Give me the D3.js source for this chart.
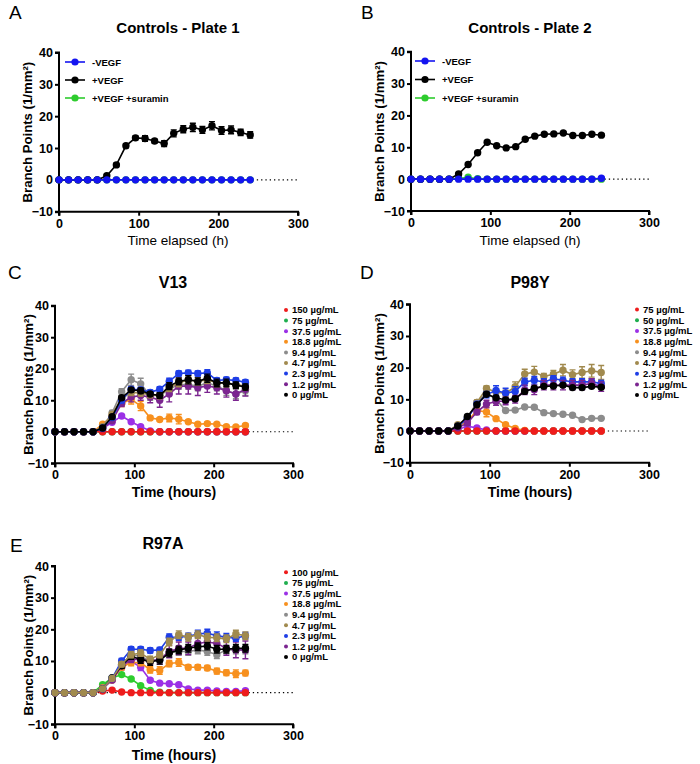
<!DOCTYPE html>
<html><head><meta charset="utf-8">
<script src="https://cdn.jsdelivr.net/npm/d3@7"></script>
<style>
body{margin:0;background:#fff;}
text{font-family:"Liberation Sans",Arial,Helvetica,sans-serif;}
</style></head>
<body><svg id="c" width="700" height="764"></svg>
<script>
const hours = [0,12,24,36,48,60,72,84,96,108,120,132,144,156,168,180,192,204,216,228,240];
const xTicks = [0,100,200,300];
const yTicks = [-10,0,10,20,30,40];

// Panel A — Controls - Plate 1
const A_minusVEGF = [0,0,0,0,0,0,0,0,0,0,0,0,0,0,0,0,0,0,0,0,0];
const A_plusVEGF  = [0,0,0,0,0,1.3,4.7,10.7,13.2,13.0,12.2,11.4,14.6,15.9,16.5,15.7,17.0,15.5,15.7,14.9,14.1];
const A_plusVEGF_err = [0,0,0,0,0,0.3,0.5,0.6,0.6,0.9,0.6,0.9,1.1,1.1,1.3,1.1,1.3,1.2,1.2,1.0,1.0];
const A_suramin   = [0,0,0,0,0,0,0,0,0,0,0,0,0,0,0,0,0,0,0,0,0];
// Panel B — Controls - Plate 2
const B_minusVEGF = [0,0,0,0,0,0,0,0,0,0,0,0,0,0,0,0,0,0,0,0,0.3];
const B_plusVEGF  = [0,0,0,0,0,1.6,4.6,8.3,11.6,10.5,9.8,10.2,12.5,13.5,14.1,14.2,14.5,13.7,13.7,14.1,13.8];
const B_plusVEGF_err = [0,0,0,0,0,0.2,0.3,0.4,0.4,0.3,0.3,0.3,0.4,0.3,0.3,0.3,0.3,0.3,0.3,0.3,0.3];
const B_suramin   = [0,0,0,0,0,0.2,0.6,0.1,0,0,0,0,0,0,0,0,0,0,0,0,0];
const controlLabels = ["-VEGF","+VEGF","+VEGF +suramin"];

// Panel C — V13
const V13_labels = ["150 µg/mL","75 µg/mL","37.5 µg/mL","18.8 µg/mL","9.4 µg/mL","4.7 µg/mL","2.3 µg/mL","1.2 µg/mL","0 µg/mL"];
const V13_150 = [0,0,0,0,0,0,0,0,0,0,0,0,0,0,0,0,0,0,0,0,0];
const V13_75  = [0,0,0,0,0,0,0,0,0,0,0,0,0,0,0,0,0,0,0,0,0];
const V13_37  = [0,0,0,0,0,1.0,3.0,5.0,3.2,1.6,0.3,0,0,0,0,0,0,0,0,0,0];
const V13_18  = [0,0,0,0,0,2.4,5.0,9.0,10.3,8.2,4.4,3.9,4.4,4.0,3.2,2.4,2.6,2.4,1.6,1.5,2.0];
const V13_9   = [0,0,0,0,0,1.5,6.0,12.7,16.5,15.2,11.5,11.5,13.5,15.0,15.0,14.5,15.5,14.5,13.0,12.0,13.0];
const V13_4   = [0,0,0,0,0,1.5,5.5,10.5,12.5,12.3,11.8,11.5,14.0,15.5,16.5,16.0,16.5,15.5,15.5,15.0,14.5];
const V13_2   = [0,0,0,0,0,1.2,4.5,10.0,13.5,13.3,12.5,13.5,16.0,18.5,18.7,18.5,18.7,16.3,16.5,16.3,15.7];
const V13_1   = [0,0,0,0,0,1.0,3.5,9.0,11.0,11.5,11.0,10.0,12.0,14.5,14.5,14.0,14.5,14.0,13.0,12.0,13.5];
const V13_0   = [0,0,0,0,0,1.2,4.8,10.8,13.3,13.0,12.0,11.5,14.5,16.0,16.5,16.0,17.0,15.5,15.5,14.8,14.2];
const V13_err18 = [0,0,0,0,0,0.3,0.6,1.0,1.5,1.5,0.6,0.5,1.2,1.5,0.5,0.4,0.4,0.4,0.4,0.4,0.4];
const V13_err9  = [0,0,0,0,0,0.3,0.8,1.0,1.8,1.8,1.5,1.5,1.5,1.5,1.5,1.5,1.5,1.5,1.5,1.5,1.5];
const V13_err4  = [0,0,0,0,0,0.3,0.6,0.8,1.0,1.0,1.0,1.0,1.2,1.2,1.2,1.2,1.2,1.2,1.2,1.2,1.2];
const V13_err2  = [0,0,0,0,0,0.3,0.6,0.8,0.8,0.8,0.8,0.8,1.0,0.8,0.8,0.8,1.0,0.8,0.8,0.8,0.8];
const V13_err1  = [0,0,0,0,0,0.3,0.6,1.0,1.5,1.5,1.8,2.2,2.5,2.5,2.5,2.5,2.0,2.0,2.0,2.0,2.2];
const V13_err0  = [0,0,0,0,0,0.3,0.5,0.6,0.6,0.9,0.6,0.9,1.1,1.1,1.3,1.1,1.3,1.2,1.2,1.0,1.0];

// Panel D — P98Y
const P98Y_labels = ["75 µg/mL","50 µg/mL","37.5 µg/mL","18.8 µg/mL","9.4 µg/mL","4.7 µg/mL","2.3 µg/mL","1.2 µg/mL","0 µg/mL"];
const P98Y_75 = [0,0,0,0,0,0,0,0,0,0,0,0,0,0,0,0,0,0,0,0,0];
const P98Y_50 = [0,0,0,0,0,0,0,0,0,0,0,0,0,0,0,0,0,0,0,0,0];
const P98Y_37 = [0,0,0,0,0,0.5,1.5,1.0,0.3,0,0,0,0,0,0,0,0,0,0,0,0];
const P98Y_18 = [0,0,0,0,0,1.5,3.0,6.5,6.0,3.9,2.0,0.8,0.2,0,0,0,0,0,0,0,0];
const P98Y_9  = [0,0,0,0,0,1.5,4.0,9.0,12.0,10.0,6.5,6.6,7.6,7.5,5.8,5.5,5.3,5.0,3.6,4.0,4.0];
const P98Y_4  = [0,0,0,0,0,2.0,4.0,9.0,13.4,12.3,11.9,14.0,18.0,18.6,17.2,17.9,19.2,17.8,18.5,19.0,18.5];
const P98Y_2  = [0,0,0,0,0,1.5,4.0,8.5,11.5,12.8,12.0,12.5,15.5,16.0,15.5,16.5,16.0,15.5,15.5,15.5,15.0];
const P98Y_1  = [0,0,0,0,0,1.0,2.5,6.0,8.5,9.3,9.5,10.0,13.0,13.0,14.5,14.5,14.5,14.5,14.5,15.0,14.0];
const P98Y_0  = [0,0,0,0,0,1.6,4.6,8.3,11.6,10.5,9.8,10.2,12.5,13.5,14.1,14.2,14.5,13.7,13.7,14.1,13.8];
const P98Y_err18 = [0,0,0,0,0,0.3,0.4,0.6,1.5,0.4,0.3,0.2,0,0,0,0,0,0,0,0,0];
const P98Y_err9  = [0,0,0,0,0,0.3,0.5,0.6,0.6,0.5,0.4,0.4,0.4,0.4,0.3,0.3,0.3,0.3,0.3,0.3,0.3];
const P98Y_err4  = [0,0,0,0,0,0.3,0.6,0.8,0.8,1.0,1.0,1.5,1.5,1.8,1.0,1.2,1.8,1.5,1.8,2.0,2.2];
const P98Y_err2  = [0,0,0,0,0,0.3,0.6,0.8,1.0,1.5,1.5,1.5,1.2,1.2,1.0,1.0,1.0,1.0,1.0,1.0,1.0];
const P98Y_err1  = [0,0,0,0,0,0.3,0.6,0.8,1.2,1.2,1.2,1.2,1.5,1.5,1.5,1.5,1.5,1.5,1.5,1.5,1.5];
const P98Y_err0  = [0,0,0,0,0,0.2,0.3,0.4,0.4,0.3,0.3,0.3,0.4,0.3,0.3,0.3,0.3,0.3,0.3,0.3,0.3];

// Panel E — R97A
const R97A_labels = ["100 µg/mL","75 µg/mL","37.5 µg/mL","18.8 µg/mL","9.4 µg/mL","4.7 µg/mL","2.3 µg/mL","1.2 µg/mL","0 µg/mL"];
const R97A_100 = [0,0,0,0,0,0.5,0.8,0.2,0,0,0,0,0,0,0,0,0,0,0,0,0];
const R97A_75  = [0,0,0,0,0,2.5,4.6,5.7,4.3,2.2,0.7,0.1,0,0,0,0,0,0,0,0,0];
const R97A_37  = [0,0,0,0,0,1.5,4.0,8.0,10.0,8.0,3.9,3.0,2.8,2.5,1.2,0.8,0.8,0.5,0.4,0.4,0.6];
const R97A_18  = [0,0,0,0,0,1.5,4.0,8.0,9.5,9.5,7.2,7.0,9.2,9.5,8.0,8.0,7.8,6.8,6.3,6.0,6.2];
const R97A_9   = [0,0,0,0,0,1.2,4.5,9.0,12.0,11.5,10.0,10.5,12.5,13.0,13.0,13.5,13.0,12.0,13.5,13.5,13.5];
const R97A_4   = [0,0,0,0,0,1.2,4.5,9.0,12.0,12.5,10.5,12.0,16.0,18.3,17.5,18.3,17.5,17.3,17.0,18.5,18.0];
const R97A_2   = [0,0,0,0,0,1.2,4.5,10.0,13.7,13.7,13.3,13.5,17.5,17.5,17.8,18.5,18.8,18.0,17.5,17.2,18.0];
const R97A_1   = [0,0,0,0,0,1.2,4.0,8.5,10.5,10.5,10.0,10.5,13.0,14.0,14.0,15.5,16.0,15.5,14.0,13.5,13.5];
const R97A_0   = [0,0,0,0,0,1.2,4.7,8.5,11.5,10.5,9.8,10.2,12.5,13.5,14.0,14.5,14.7,13.7,13.7,14.0,14.0];
const R97A_err37 = [0,0,0,0,0,0.3,0.5,0.8,1.0,1.0,0.5,0.4,0.3,0.3,0.3,0.2,0.2,0.2,0.2,0.2,0.2];
const R97A_err18 = [0,0,0,0,0,0.3,0.5,0.8,1.0,1.0,1.0,1.2,1.0,1.2,0.8,0.8,0.8,0.9,0.9,1.2,0.9];
const R97A_err9  = [0,0,0,0,0,0.3,0.5,0.8,1.0,1.0,1.0,1.0,1.2,1.2,1.2,1.2,1.2,1.2,1.2,1.2,1.2];
const R97A_err4  = [0,0,0,0,0,0.3,0.5,0.8,1.0,1.0,1.0,1.0,1.2,1.2,1.2,1.2,1.2,1.2,1.2,1.2,1.2];
const R97A_err2  = [0,0,0,0,0,0.3,0.5,0.8,0.8,0.8,0.8,0.8,1.0,1.0,1.0,1.2,1.2,1.2,1.2,1.0,1.0];
const R97A_err1  = [0,0,0,0,0,0.3,0.5,0.8,1.0,1.0,1.0,1.5,2.0,2.0,2.0,2.0,2.0,2.0,2.2,2.5,2.8];
const R97A_err0  = [0,0,0,0,0,0.3,0.5,0.8,1.0,1.2,1.2,1.2,1.2,1.2,1.2,1.2,1.2,1.2,1.2,1.2,1.2];

const COL = {red:"#ee1c1c", green:"#1fae4f", violet:"#9b30e6", orange:"#f7901e", gray:"#8c8c8c",
             olive:"#a18a4e", blue:"#1e3ee6", dpurple:"#7b2590", black:"#000000",
             cblue:"#1414f0", cgreen:"#2ecc2e"};

const svg = d3.select("#c");
const zero21 = hours.map(()=>0);

function panel(cfg){
  const x = d3.scaleLinear().domain([0,300]).range([cfg.x0,cfg.x1]);
  const y = d3.scaleLinear().domain([-10,40]).range([cfg.yb,cfg.yt]);
  const g = svg.append("g");
  g.append("text").attr("x",cfg.lx).attr("y",cfg.ly).attr("font-size",19).text(cfg.letter);
  g.append("text").attr("x",cfg.tx).attr("y",cfg.ty).attr("text-anchor","middle")
    .attr("font-size",cfg.tfs).attr("font-weight","bold").text(cfg.title);
  g.append("line").attr("x1",x(0)).attr("x2",x(300)).attr("y1",y(0)).attr("y2",y(0))
    .attr("stroke","#000").attr("stroke-width",1.1).attr("stroke-dasharray","1.3,3");
  const ya = g.append("g").attr("transform",`translate(${cfg.x0},0)`)
    .call(d3.axisLeft(y).tickValues(yTicks).tickSize(4).tickPadding(2).tickFormat(d3.format("d")));
  const xa = g.append("g").attr("transform",`translate(0,${cfg.yb})`)
    .call(d3.axisBottom(x).tickValues(xTicks).tickSize(4).tickPadding(3).tickFormat(d3.format("d")));
  [ya,xa].forEach(a=>{
    a.select(".domain").attr("stroke-width",2).attr("stroke","#000");
    a.selectAll(".tick line").attr("stroke-width",2).attr("stroke","#000");
    a.selectAll("text").attr("font-size",12.5).attr("font-weight","bold").attr("fill","#000")
      .style("font-family",'"Liberation Sans",Arial,sans-serif');
  });
  ya.select(".domain").attr("d",`M-4,${cfg.yb}H0V${cfg.yt}H-4`);
  xa.select(".domain").attr("d",`M${cfg.x0},4V0H${cfg.x1}V4`);
  g.append("text").attr("transform",`translate(${cfg.ytx},${(cfg.yt+cfg.yb)/2}) rotate(-90)`)
    .attr("text-anchor","middle").attr("font-size",13.2).attr("font-weight","bold")
    .text("Branch Points (1/mm²)");
  g.append("text").attr("x",cfg.xtx).attr("y",cfg.xty).attr("text-anchor","middle")
    .attr("font-size",cfg.xtBold?14:13.5).attr("font-weight",cfg.xtBold?"bold":"normal").text(cfg.xtitle);
  const line = d3.line().x((d,i)=>x(hours[i])).y(d=>y(d));
  cfg.series.forEach(s=>{
    const sg = g.append("g");
    const err = s.err || zero21;
    hours.forEach((h,i)=>{
      if(err[i]>0.15){
        const cx=x(h), a=y(s.v[i]-err[i]), b=y(s.v[i]+err[i]);
        sg.append("path").attr("d",`M${cx},${a}V${b}M${cx-3},${a}H${cx+3}M${cx-3},${b}H${cx+3}`)
          .attr("stroke",s.c).attr("stroke-width",1.4).attr("fill","none");
      }
    });
    sg.append("path").attr("d",line(s.v)).attr("fill","none").attr("stroke",s.c).attr("stroke-width",1.6);
    sg.selectAll("circle").data(s.v).join("circle")
      .attr("cx",(d,i)=>x(hours[i])).attr("cy",d=>y(d)).attr("r",3.7).attr("fill",s.c);
  });
  if(cfg.legendType==="line"){
    cfg.legend.forEach((L,i)=>{
      const yy = cfg.legY + i*cfg.legDy;
      g.append("line").attr("x1",cfg.legX-10).attr("x2",cfg.legX+10).attr("y1",yy).attr("y2",yy)
        .attr("stroke",L.c).attr("stroke-width",1.6);
      g.append("circle").attr("cx",cfg.legX).attr("cy",yy).attr("r",3.6).attr("fill",L.c);
      g.append("text").attr("x",cfg.legX+17).attr("y",yy+3.5).attr("font-size",9.5)
        .attr("font-weight","bold").text(L.t);
    });
  } else {
    cfg.legend.forEach((L,i)=>{
      const yy = cfg.legY + i*cfg.legDy;
      g.append("circle").attr("cx",cfg.legX).attr("cy",yy).attr("r",2).attr("fill",L.c);
      g.append("text").attr("x",cfg.legX+6).attr("y",yy+3.3).attr("font-size",9.5)
        .attr("font-weight","bold").text(L.t);
    });
  }
}

const doseColors = [COL.red,COL.green,COL.violet,COL.orange,COL.gray,COL.olive,COL.blue,COL.dpurple,COL.black];

panel({letter:"A",lx:9,ly:19,title:"Controls - Plate 1",tfs:15,tx:178,ty:33,
  x0:59,x1:298,yt:52.5,yb:211.7,ytx:32,xtitle:"Time elapsed (h)",xtx:178,xty:245,xtBold:false,
  series:[{v:A_suramin,c:COL.cgreen},{v:A_plusVEGF,c:COL.black,err:A_plusVEGF_err},{v:A_minusVEGF,c:COL.cblue}],
  legendType:"line",legX:75,legY:62,legDy:18,
  legend:[{t:controlLabels[0],c:COL.cblue},{t:controlLabels[1],c:COL.black},{t:controlLabels[2],c:COL.cgreen}]});

panel({letter:"B",lx:361,ly:19,title:"Controls - Plate 2",tfs:15,tx:530,ty:33,
  x0:411,x1:649,yt:51.7,yb:211,ytx:384,xtitle:"Time elapsed (h)",xtx:530,xty:245,xtBold:false,
  series:[{v:B_suramin,c:COL.cgreen},{v:B_plusVEGF,c:COL.black,err:B_plusVEGF_err},{v:B_minusVEGF,c:COL.cblue}],
  legendType:"line",legX:425,legY:61,legDy:18.5,
  legend:[{t:controlLabels[0],c:COL.cblue},{t:controlLabels[1],c:COL.black},{t:controlLabels[2],c:COL.cgreen}]});

panel({letter:"C",lx:8,ly:279,title:"V13",tfs:16,tx:173,ty:288,
  x0:55,x1:293,yt:305.7,yb:463.3,ytx:33,xtitle:"Time (hours)",xtx:174,xty:497,xtBold:true,
  series:[{v:V13_75,c:COL.green},{v:V13_37,c:COL.violet},{v:V13_18,c:COL.orange,err:V13_err18},
          {v:V13_150,c:COL.red},{v:V13_9,c:COL.gray,err:V13_err9},{v:V13_1,c:COL.dpurple,err:V13_err1},
          {v:V13_4,c:COL.olive,err:V13_err4},{v:V13_2,c:COL.blue,err:V13_err2},{v:V13_0,c:COL.black,err:V13_err0}],
  legendType:"dot",legX:286,legY:310,legDy:10.6,
  legend:V13_labels.map((t,i)=>({t,c:doseColors[i]}))});

panel({letter:"D",lx:360,ly:279,title:"P98Y",tfs:16,tx:530,ty:288,
  x0:410,x1:649,yt:304.3,yb:462.7,ytx:384,xtitle:"Time (hours)",xtx:530,xty:497,xtBold:true,
  series:[{v:P98Y_50,c:COL.green},{v:P98Y_37,c:COL.violet},{v:P98Y_18,c:COL.orange,err:P98Y_err18},
          {v:P98Y_75,c:COL.red},{v:P98Y_9,c:COL.gray,err:P98Y_err9},{v:P98Y_4,c:COL.olive,err:P98Y_err4},
          {v:P98Y_2,c:COL.blue,err:P98Y_err2},{v:P98Y_1,c:COL.dpurple,err:P98Y_err1},{v:P98Y_0,c:COL.black,err:P98Y_err0}],
  legendType:"dot",legX:637,legY:309.5,legDy:10.7,
  legend:P98Y_labels.map((t,i)=>({t,c:doseColors[i]}))});

panel({letter:"E",lx:10,ly:552,title:"R97A",tfs:16,tx:163,ty:549,
  x0:55,x1:293,yt:566,yb:724.3,ytx:33,xtitle:"Time (hours)",xtx:174,xty:760,xtBold:true,
  series:[{v:R97A_75,c:COL.cgreen},{v:R97A_37,c:COL.violet,err:R97A_err37},{v:R97A_18,c:COL.orange,err:R97A_err18},
          {v:R97A_100,c:COL.red},{v:R97A_9,c:COL.gray,err:R97A_err9},{v:R97A_1,c:COL.dpurple,err:R97A_err1},
          {v:R97A_0,c:COL.black,err:R97A_err0},{v:R97A_2,c:COL.blue,err:R97A_err2},{v:R97A_4,c:COL.olive,err:R97A_err4}],
  legendType:"dot",legX:286,legY:572.3,legDy:10.6,
  legend:R97A_labels.map((t,i)=>({t,c:doseColors[i]}))});
</script></body></html>
